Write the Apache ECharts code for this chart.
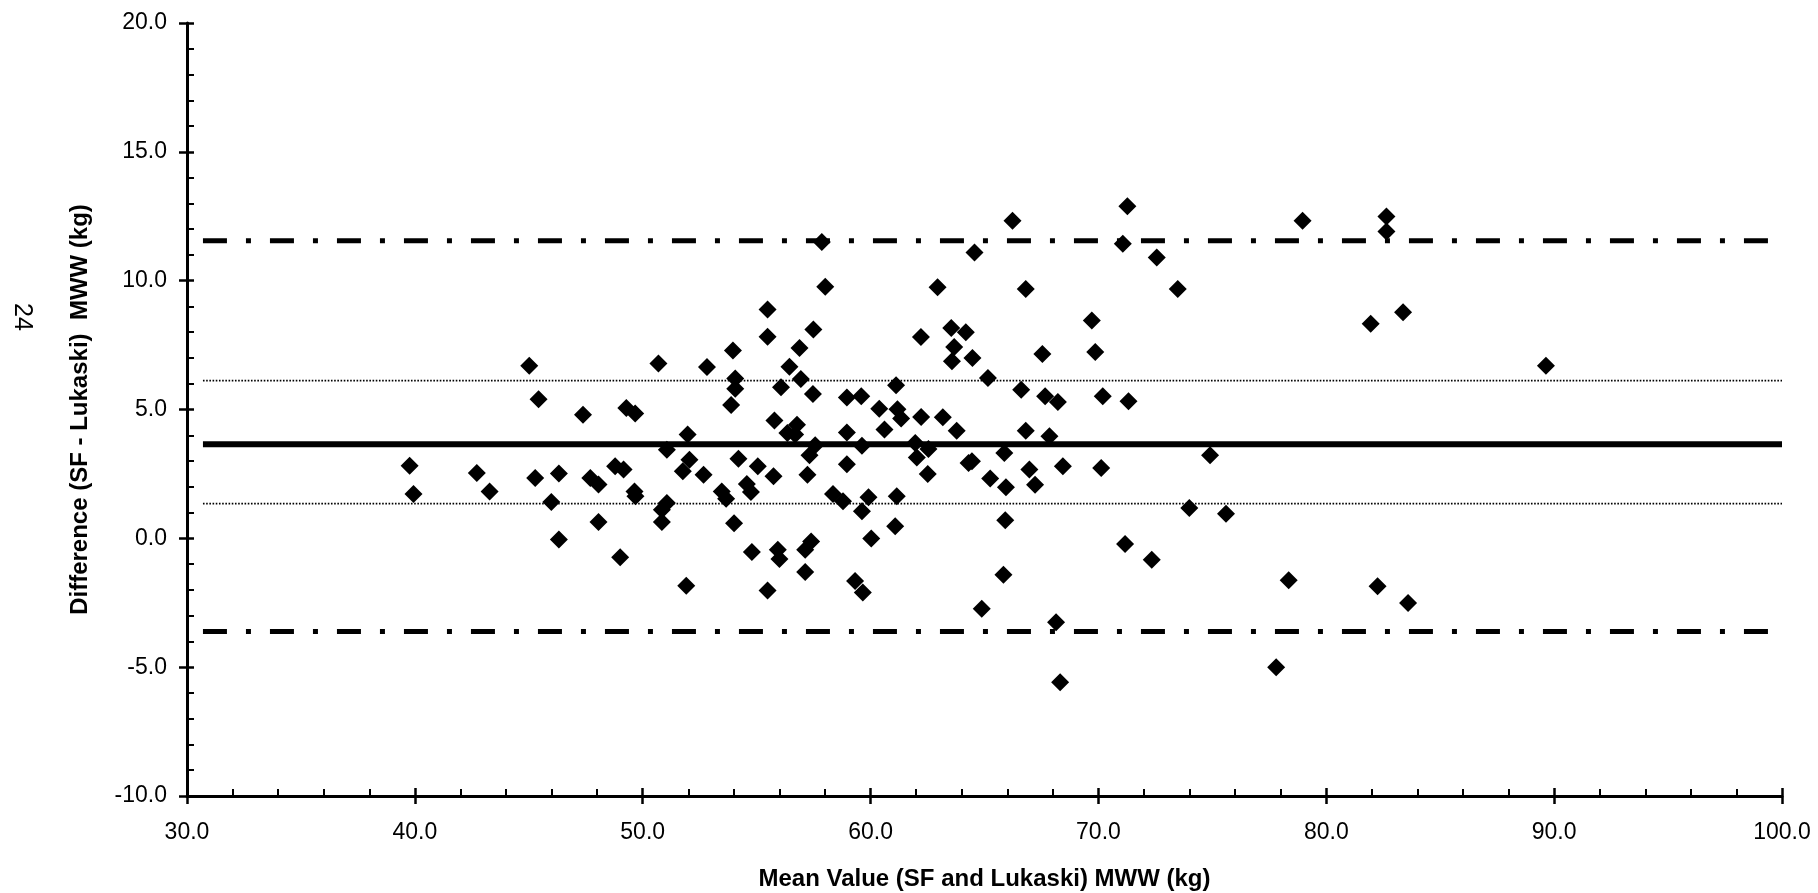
<!DOCTYPE html>
<html>
<head>
<meta charset="utf-8">
<script src="https://cdn.jsdelivr.net/npm/echarts/dist/echarts.min.js"></script>
<style>
  html, body { margin: 0; padding: 0; background: #fff; }
  #chart { width: 1818px; height: 893px; }
</style>
</head>
<body>
<div id="chart"></div>
<script>
// Mean of the two methods (x) and difference SF - Lukaski (y), MWW in kg
const meanValues = [
  55.48, 55.48, 57.49, 56.88, 53.96, 56.44, 52.82, 50.69, 45.02, 54.06,
  56.94, 54.06, 56.07, 57.47, 58.96, 45.43, 53.88, 47.38, 49.28, 49.67,
  55.78, 56.77, 56.35, 56.69, 58.96, 51.97, 51.06, 57.57, 57.32, 54.20,
  52.05, 58.96, 39.77, 55.05, 42.72, 46.32, 48.79, 49.16, 51.76, 52.67,
  55.74, 57.23, 45.28, 47.70, 48.06, 39.94, 43.28, 49.64, 49.68, 53.47,
  53.66, 54.57, 54.75, 58.35, 58.79, 45.99, 51.06, 50.84, 48.06, 50.84,
  54.01, 46.32, 49.01, 54.79, 55.93, 56.00, 57.39, 57.13, 57.13, 51.91,
  55.48,
  57.86, 58.01, 59.59, 61.12, 60.38, 61.18, 61.34, 62.22, 63.17, 60.61,
  63.78, 66.81, 67.85, 66.23, 71.27, 71.07, 64.56, 72.56, 62.94, 66.81,
  73.48, 69.71, 69.86, 67.54, 62.21, 63.54, 64.18, 63.67, 64.47, 63.57,
  65.15, 66.61, 67.66, 68.22, 70.19, 71.32,
  59.62, 61.96, 62.03, 62.54, 62.51, 64.45, 64.30, 65.87, 65.25, 65.94,
  66.97, 67.22, 68.44, 70.12, 74.90, 59.91, 59.62, 61.15, 61.08, 60.03,
  65.91, 73.99, 75.60, 71.17, 72.34, 59.32, 59.66, 65.83, 64.88, 68.14,
  68.32,
  78.96, 82.64, 82.64, 81.95, 83.37, 89.64, 78.35, 82.25, 83.59, 77.80
];
const differences = [
  8.88, 7.82, 8.10, 7.39, 7.29, 6.66, 6.65, 6.79, 6.70, 6.20,
  6.18, 5.81, 5.86, 5.60, 5.47, 5.40, 5.17, 4.80, 5.06, 4.84,
  4.57, 4.41, 4.09, 4.03, 4.11, 4.03, 3.44, 3.61, 3.22, 3.09,
  3.05, 2.88, 2.82, 2.80, 2.54, 2.52, 2.80, 2.67, 2.60, 2.47,
  2.41, 2.47, 2.34, 2.34, 2.09, 1.72, 1.82, 1.82, 1.63, 1.82,
  1.54, 2.11, 1.80, 1.72, 1.44, 1.41, 1.37, 1.11, 0.63, 0.63,
  0.59, -0.05, -0.73, -0.53, -0.44, -0.80, -0.12, -0.44, -1.31, -1.84,
  -2.02,
  11.50, 9.76, 5.51, 5.94, 5.03, 5.01, 4.65, 4.71, 4.70, 4.22,
  4.18, 4.18, 3.96, 12.33, 12.89, 11.43, 11.09, 10.90, 9.74, 9.68,
  9.68, 8.45, 7.23, 7.15, 7.81, 8.16, 8.00, 7.43, 7.00, 6.87,
  6.22, 5.77, 5.51, 5.29, 5.51, 5.32,
  3.59, 3.70, 3.14, 3.47, 2.50, 2.99, 2.92, 3.31, 2.32, 1.98,
  2.67, 2.08, 2.80, 2.73, 3.22, 1.59, 1.05, 1.63, 0.47, -0.01,
  0.70, 1.18, 0.95, -0.22, -0.83, -1.66, -2.10, -1.41, -2.73, -3.26,
  -5.59,
  12.33, 12.49, 11.91, 8.33, 8.77, 6.70, -1.63, -1.86, -2.51, -5.00
];

// Reference lines (y values) and their horizontal extent
const lineRange = [30.7, 100];
const meanBias = 3.65;
const upperLimit = 11.55;
const lowerLimit = -3.62;
const upperInner = 6.12;
const lowerInner = 1.35;

// Axis ranges / tick steps
const xRange = [30, 100];
const xStep = 10;
const yRange = [-10, 20];
const yStep = 5;

const xTitle = 'Mean Value (SF and Lukaski) MWW (kg)';
const yTitle = 'Difference (SF - Lukaski)  MWW (kg)';
const pageNumber = '24';

const FONT = "'Liberation Sans', Arial, Helvetica, sans-serif";
const BLACK = '#000';

const points = meanValues.map((x, i) => [x, differences[i]]);
const hLine = (y) => [[lineRange[0], y], [lineRange[1], y]];

function baseAxis(range, step) {
  return {
    type: 'value', min: range[0], max: range[1], interval: step,
    splitLine: { show: false }, minorSplitLine: { show: false }
  };
}

const chart = echarts.init(document.getElementById('chart'), null, { renderer: 'canvas' });
chart.setOption({
  animation: false,
  backgroundColor: '#fff',
  grid: { left: 187, right: 36, top: 23, bottom: 97, containLabel: false, outerBoundsMode: 'none' },
  xAxis: [
    Object.assign(baseAxis(xRange, xStep), {
      position: 'bottom',
      axisLine: { show: true, onZero: false, lineStyle: { color: BLACK, width: 3 } },
      axisTick: { show: true, inside: false, length: 8, lineStyle: { color: BLACK, width: 2.5 } },
      axisLabel: { show: true, margin: 25, color: BLACK, fontSize: 23, fontFamily: FONT,
                   formatter: v => v.toFixed(1) },
      name: xTitle, nameLocation: 'middle', nameGap: 71,
      nameTextStyle: { color: BLACK, fontSize: 24, fontWeight: 'bold', fontFamily: FONT }
    }),
    Object.assign(baseAxis(xRange, xStep), {
      position: 'bottom',
      axisLine: { show: false, onZero: false },
      axisTick: { show: true, inside: true, length: 8, lineStyle: { color: BLACK, width: 2.5 } },
      minorTick: { show: true, splitNumber: 5, length: 7, lineStyle: { color: BLACK, width: 2 } },
      axisLabel: { show: false }
    })
  ],
  yAxis: [
    Object.assign(baseAxis(yRange, yStep), {
      position: 'left',
      axisLine: { show: true, onZero: false, lineStyle: { color: BLACK, width: 3 } },
      axisTick: { show: true, inside: false, length: 8, lineStyle: { color: BLACK, width: 2.5 } },
      axisLabel: { show: true, margin: 20, color: BLACK, fontSize: 23, fontFamily: FONT,
                   formatter: v => v.toFixed(1) },
      name: yTitle, nameLocation: 'middle', nameGap: 95,
      nameTextStyle: { color: BLACK, fontSize: 24, fontWeight: 'bold', fontFamily: FONT }
    }),
    Object.assign(baseAxis(yRange, yStep), {
      position: 'left',
      axisLine: { show: false, onZero: false },
      axisTick: { show: true, inside: true, length: 7, lineStyle: { color: BLACK, width: 2.5 } },
      minorTick: { show: true, splitNumber: 5, length: 7, lineStyle: { color: BLACK, width: 2 } },
      axisLabel: { show: false }
    })
  ],
  graphic: [{
    type: 'text', left: 9, top: 303, rotation: -Math.PI / 2,
    style: { text: pageNumber, fill: BLACK, font: '25px ' + FONT }
  }],
  series: [
    { type: 'line', name: 'upper limit', data: hLine(upperLimit), symbol: 'none', silent: true,
      lineStyle: { color: BLACK, width: 5, type: [24, 19, 5, 19], cap: 'butt' }, z: 2 },
    { type: 'line', name: 'lower limit', data: hLine(lowerLimit), symbol: 'none', silent: true,
      lineStyle: { color: BLACK, width: 5, type: [24, 19, 5, 19], cap: 'butt' }, z: 2 },
    { type: 'line', name: 'upper inner', data: hLine(upperInner), symbol: 'none', silent: true,
      lineStyle: { color: BLACK, width: 1.8, type: [1.6, 1.6] }, z: 2 },
    { type: 'line', name: 'lower inner', data: hLine(lowerInner), symbol: 'none', silent: true,
      lineStyle: { color: BLACK, width: 1.8, type: [1.6, 1.6] }, z: 2 },
    { type: 'line', name: 'mean', data: hLine(meanBias), symbol: 'none', silent: true,
      lineStyle: { color: BLACK, width: 6, type: 'solid' }, z: 2 },
    { type: 'scatter', name: 'differences', data: points, symbol: 'diamond', symbolSize: 18,
      itemStyle: { color: BLACK, opacity: 1 }, z: 5 }
  ]
});
</script>
</body>
</html>
